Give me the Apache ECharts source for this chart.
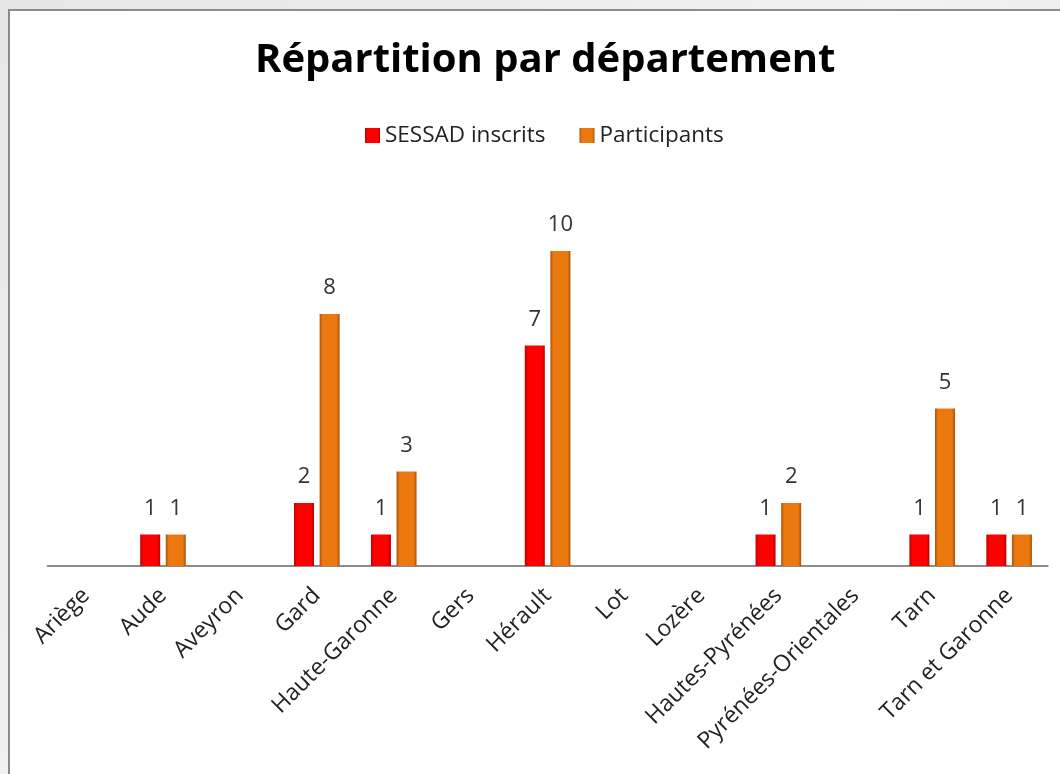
<!DOCTYPE html>
<html>
<head>
<meta charset="utf-8">
<script src="https://cdn.jsdelivr.net/npm/echarts@6/dist/echarts.min.js"></script>
<style>
  html, body { margin: 0; padding: 0; }
  body {
    width: 1060px; height: 774px; overflow: hidden; position: relative;
    background: linear-gradient(135deg, #e6e6e6 0%, #f2f2f2 50%, #dedede 100%);
  }
  #frame {
    position: absolute; left: 8px; top: 9px; width: 1100px; height: 820px;
    background: #fff; border: 2px solid #8c8c8c;
  }
  #chart { position: absolute; left: 0; top: 0; width: 1060px; height: 774px; }
</style>
</head>
<body>
<div id="frame"></div>
<div id="chart"></div>
<script>
var departements = ['Ariège', 'Aude', 'Aveyron', 'Gard', 'Haute-Garonne', 'Gers', 'Hérault',
  'Lot', 'Lozère', 'Hautes-Pyrénées', 'Pyrénées-Orientales', 'Tarn', 'Tarn et Garonne'];
var sessadInscrits = [0, 1, 0, 2, 1, 0, 7, 0, 0, 1, 0, 1, 1];
var participants = [0, 1, 0, 8, 3, 0, 10, 0, 0, 2, 0, 5, 1];

function bevel(edge, mid) {
  return new echarts.graphic.LinearGradient(0, 0, 1, 0, [
    { offset: 0, color: edge },
    { offset: 0.15, color: mid },
    { offset: 0.85, color: mid },
    { offset: 1, color: edge }
  ]);
}

var fontFam = '"Open Sans", "Noto Sans", sans-serif';

var myChart = echarts.init(document.getElementById('chart'));
var option = {
  backgroundColor: 'transparent',
  textStyle: { fontFamily: fontFam },
  title: {
    text: 'Répartition par département',
    left: 250,
    top: 36,
    textStyle: { fontSize: 40, fontWeight: 'bold', color: '#000', fontFamily: fontFam }
  },
  legend: {
    top: 119,
    left: 360,
    itemWidth: 15,
    itemHeight: 15,
    itemGap: 34,
    textStyle: { fontSize: 22.5, color: '#222' },
    data: [
      { name: 'SESSAD inscrits', icon: 'rect' },
      { name: 'Participants', icon: 'rect' }
    ]
  },
  grid: { left: 47.6, right: 12.4, top: 251, bottom: 208 },
  xAxis: {
    type: 'category',
    data: departements,
    axisLine: { lineStyle: { color: '#8c8c8c', width: 2 } },
    axisTick: { show: false },
    axisLabel: {
      interval: 0,
      rotate: 45,
      margin: 26,
      fontSize: 23,
      color: '#222'
    }
  },
  yAxis: {
    type: 'value',
    min: 0,
    max: 10,
    show: false,
    splitLine: { show: false }
  },
  series: [
    {
      name: 'SESSAD inscrits',
      type: 'bar',
      barWidth: 20,
      barGap: '28%',
      data: sessadInscrits,
      itemStyle: { color: bevel('#b80000', '#ff0000') },
      label: {
        show: true, position: 'top', distance: 15, fontSize: 22, color: '#333',
        formatter: function (p) { return p.value > 0 ? p.value : ''; }
      }
    },
    {
      name: 'Participants',
      type: 'bar',
      barWidth: 20,
      data: participants,
      itemStyle: { color: bevel('#a85208', '#ec7810') },
      label: {
        show: true, position: 'top', distance: 15, fontSize: 22, color: '#333',
        formatter: function (p) { return p.value > 0 ? p.value : ''; }
      }
    }
  ]
};
myChart.setOption(option);
</script>
</body>
</html>
